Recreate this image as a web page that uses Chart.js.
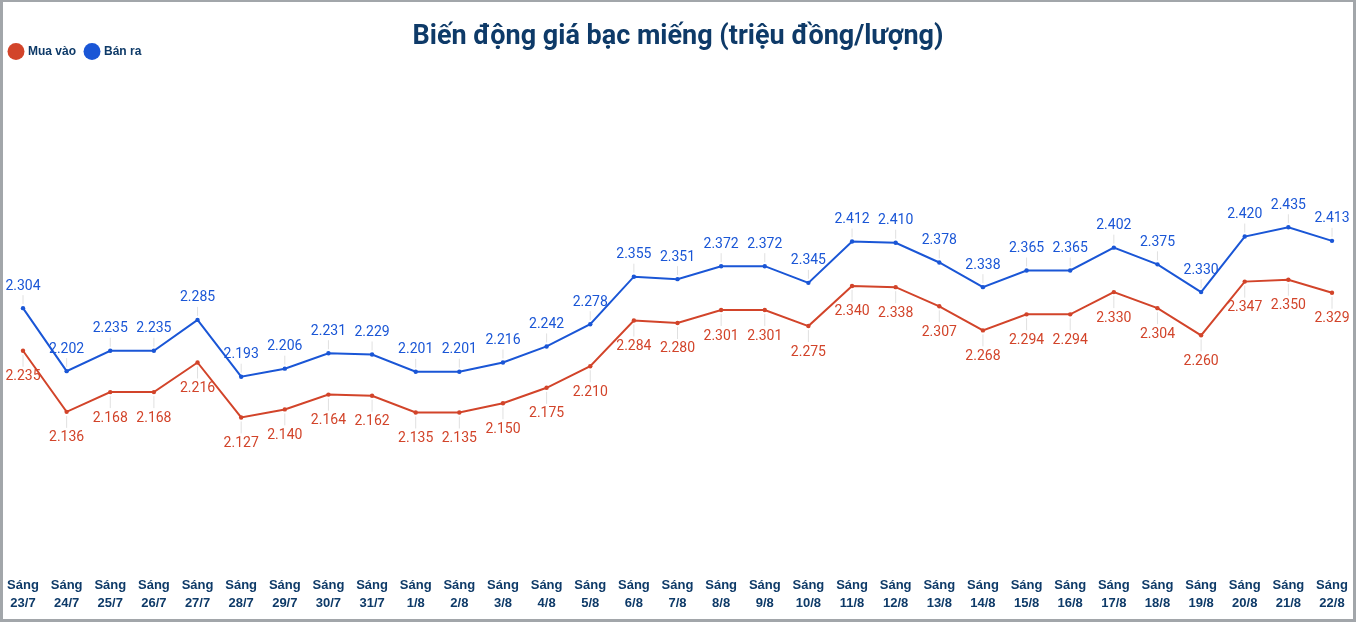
<!DOCTYPE html>
<html>
<head>
<meta charset="utf-8">
<script src="https://cdn.jsdelivr.net/npm/chart.js@4.4.1/dist/chart.umd.min.js"></script>
<style>
  html, body { margin: 0; padding: 0; background: #fff; }
  #wrap { position: relative; width: 1356px; height: 622px; }
  #frame { position: absolute; left: 0; top: 0; width: 1356px; height: 622px; box-sizing: border-box;
           border: 3px solid #a2a6aa; border-top-width: 2px; pointer-events: none; }
  canvas { position: absolute; left: 0; top: 0; }
</style>
</head>
<body>
<div id="wrap">
  <canvas id="c" width="1356" height="622"></canvas>
  <div id="frame"></div>
</div>
<script>
const titleText = 'Biến động giá bạc miếng (triệu đồng/lượng)';
const seriesNames = ['Mua vào', 'Bán ra'];
const dates = ['23/7','24/7','25/7','26/7','27/7','28/7','29/7','30/7','31/7',
  '1/8','2/8','3/8','4/8','5/8','6/8','7/8','8/8','9/8','10/8','11/8','12/8',
  '13/8','14/8','15/8','16/8','17/8','18/8','19/8','20/8','21/8','22/8'];
const muaVao = [2.235, 2.136, 2.168, 2.168, 2.216, 2.127, 2.140, 2.164, 2.162, 2.135, 2.135,
  2.150, 2.175, 2.210, 2.284, 2.280, 2.301, 2.301, 2.275, 2.340, 2.338, 2.307, 2.268,
  2.294, 2.294, 2.330, 2.304, 2.260, 2.347, 2.350, 2.329];
const banRa = [2.304, 2.202, 2.235, 2.235, 2.285, 2.193, 2.206, 2.231, 2.229, 2.201, 2.201,
  2.216, 2.242, 2.278, 2.355, 2.351, 2.372, 2.372, 2.345, 2.412, 2.410, 2.378, 2.338,
  2.365, 2.365, 2.402, 2.375, 2.330, 2.420, 2.435, 2.413];
const yMin = 1.875;
const yMax = 2.694;

const RED = '#d2442a';
const BLUE = '#1a56d6';
const NAVY = '#0e3a68';

const labels = dates.map(d => ['Sáng', d]);

const valueLabels = {
  id: 'valueLabels',
  beforeDatasetsDraw(chart) {
    const ctx = chart.ctx;
    ctx.save();
    ctx.strokeStyle = '#e0e0e0';
    ctx.lineWidth = 1;
    chart.data.datasets.forEach((ds, i) => {
      const meta = chart.getDatasetMeta(i);
      const up = i === 1;
      meta.data.forEach(pt => {
        ctx.beginPath();
        if (up) { ctx.moveTo(pt.x, pt.y - 4); ctx.lineTo(pt.x, pt.y - 13); }
        else { ctx.moveTo(pt.x, pt.y + 4); ctx.lineTo(pt.x, pt.y + 16); }
        ctx.stroke();
      });
    });
    ctx.restore();
  },
  afterDatasetsDraw(chart) {
    const ctx = chart.ctx;
    ctx.save();
    ctx.font = '14px Roboto';
    ctx.textAlign = 'center';
    ctx.textBaseline = 'middle';
    chart.data.datasets.forEach((ds, i) => {
      const meta = chart.getDatasetMeta(i);
      const up = i === 1;
      ctx.fillStyle = ds.borderColor;
      meta.data.forEach((pt, j) => {
        const txt = ds.data[j].toFixed(3);
        ctx.fillText(txt, pt.x, up ? pt.y - 22 : pt.y + 26);
      });
    });
    ctx.restore();
  }
};

new Chart(document.getElementById('c'), {
  type: 'line',
  data: {
    labels: labels,
    datasets: [
      { label: seriesNames[0], data: muaVao, borderColor: RED, backgroundColor: RED,
        borderWidth: 2, pointRadius: 2.2, pointBackgroundColor: RED, pointBorderWidth: 0, tension: 0 },
      { label: seriesNames[1], data: banRa, borderColor: BLUE, backgroundColor: BLUE,
        borderWidth: 2, pointRadius: 2.2, pointBackgroundColor: BLUE, pointBorderWidth: 0, tension: 0 }
    ]
  },
  options: {
    responsive: false,
    animation: false,
    devicePixelRatio: 1,
    layout: { padding: { left: 0, right: 0, top: 0, bottom: 7 } },
    plugins: {
      title: {
        display: true, text: titleText, color: NAVY,
        font: { family: 'Roboto', size: 27, weight: 'bold', lineHeight: 1.2 },
        padding: { top: 21, bottom: -18 }
      },
      legend: {
        display: true, position: 'top', align: 'start',
        labels: {
          usePointStyle: true, pointStyle: 'circle', boxWidth: 12, boxHeight: 12,
          color: NAVY, padding: 10,
          font: { family: '"Liberation Sans", Arial, sans-serif', size: 12, weight: 'bold' }
        }
      },
      tooltip: { enabled: false }
    },
    scales: {
      x: {
        offset: false,
        grid: { display: false, drawTicks: false },
        border: { display: false },
        ticks: {
          color: NAVY, padding: 3, maxRotation: 0, minRotation: 0, autoSkip: false,
          font: { family: '"Liberation Sans", Arial, sans-serif', size: 13, weight: 'bold', lineHeight: '18px' }
        }
      },
      y: {
        min: yMin, max: yMax,
        grid: { display: false, drawTicks: false },
        border: { display: false },
        ticks: { display: false },
        afterFit(scale) { scale.width = 23; }
      },
      y2: {
        position: 'right',
        min: yMin, max: yMax,
        grid: { display: false, drawTicks: false },
        border: { display: false },
        ticks: { display: false },
        afterFit(scale) { scale.width = 24; }
      }
    }
  },
  plugins: [valueLabels]
});
</script>
</body>
</html>
